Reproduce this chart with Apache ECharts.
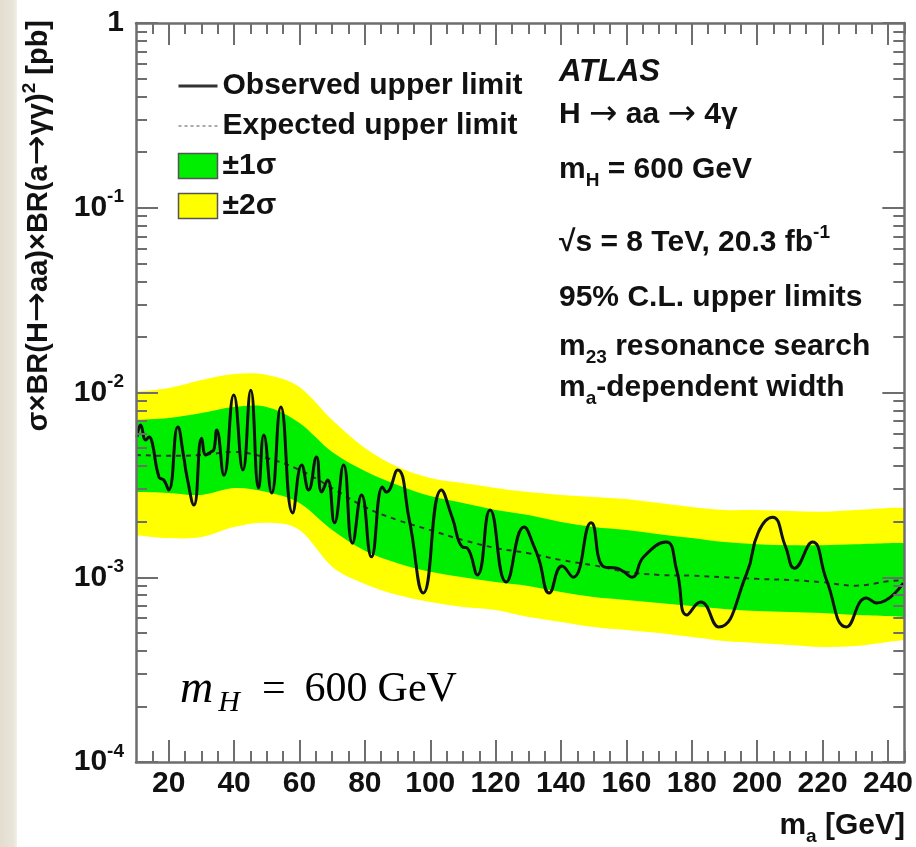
<!DOCTYPE html>
<html><head><meta charset="utf-8">
<script src="https://cdn.jsdelivr.net/npm/echarts@6/dist/echarts.min.js"></script>
<style>html,body{margin:0;padding:0;background:#fff}#c{width:916px;height:847px}</style>
</head><body><div id="c"></div>
<script>
// ---------------- data ----------------
const massObs = [10.3, 11.4, 13.0, 14.0, 14.9, 17.0, 18.5, 20.0, 22.8, 24.6,
  25.6, 27.7, 30.1, 31.4, 32.9, 33.8, 34.7, 36.9, 39.9, 42.7,
  45.1, 47.5, 49.1, 51.5, 54.3, 57.9, 60.7, 62.8, 65.2, 66.8,
  68.6, 70.7, 73.5, 76.2, 79.0, 82.0, 85.4, 86.6, 90.0, 93.6,
  97.9, 103.4, 106.7, 109.8, 111.3, 114.4, 118.3, 123.2, 128.7, 131.8,
  133.3, 136.4, 140.3, 143.7, 149.2, 153.1, 157.1, 159.2, 161.7, 165.3,
  172.1, 175.4, 178.5, 182.7, 188.2, 196.8, 200.4, 204.7, 208.7, 211.4,
  216.9, 221.2, 227.3, 233.4, 236.5, 244.7];
const obsLimit = [5.74e-3, 6.67e-3, 5.53e-3, 5.74e-3, 5.40e-3, 3.49e-3, 3.36e-3, 2.97e-3, 6.50e-3, 4.48e-3,
  3.49e-3, 2.46e-3, 5.66e-3, 4.59e-3, 4.77e-3, 4.89e-3, 6.27e-3, 3.57e-3, 9.69e-3, 3.81e-3,
  1.03e-2, 3.04e-3, 5.89e-3, 2.86e-3, 8.35e-3, 2.23e-3, 4.05e-3, 2.97e-3, 4.48e-3, 2.89e-3,
  3.36e-3, 1.97e-3, 4.05e-3, 1.53e-3, 2.79e-3, 1.29e-3, 3.08e-3, 2.89e-3, 3.81e-3, 2.04e-3,
  8.22e-4, 2.97e-3, 2.11e-3, 1.46e-3, 1.44e-3, 1.03e-3, 2.31e-3, 9.43e-4, 1.87e-3, 1.46e-3,
  1.24e-3, 8.22e-4, 1.15e-3, 1.00e-3, 1.97e-3, 1.14e-3, 1.12e-3, 1.07e-3, 1.00e-3, 1.29e-3,
  1.55e-3, 1.09e-3, 6.25e-4, 7.34e-4, 5.38e-4, 1.05e-3, 1.76e-3, 2.11e-3, 1.46e-3, 1.12e-3,
  1.55e-3, 9.66e-4, 5.38e-4, 7.73e-4, 7.26e-4, 9.31e-4];

const massBand = [10, 20, 30, 40, 50, 60, 70, 80, 90, 100, 110, 120, 130, 140, 150, 160, 170, 180, 190, 200, 210, 220, 230, 240, 245];
const expLimit = [4.59e-3, 4.54e-3, 4.59e-3, 4.77e-3, 4.42e-3, 3.81e-3, 3.04e-3, 2.40e-3, 2.04e-3, 1.80e-3, 1.59e-3, 1.44e-3, 1.35e-3,
  1.24e-3, 1.16e-3, 1.07e-3, 1.03e-3, 1.02e-3, 1.00e-3, 9.8e-4, 9.66e-4, 9.4e-4, 9.0e-4, 9.5e-4, 9.66e-4];
const plus2 = [1.007e-2, 1.057e-2, 1.169e-2, 1.259e-2, 1.245e-2, 1.071e-2, 7.10e-3, 5.01e-3, 3.96e-3, 3.45e-3, 3.24e-3, 3.04e-3, 2.89e-3,
  2.79e-3, 2.72e-3, 2.65e-3, 2.52e-3, 2.40e-3, 2.31e-3, 2.31e-3, 2.28e-3, 2.26e-3, 2.31e-3, 2.37e-3, 2.37e-3];
const plus1 = [7.10e-3, 7.28e-3, 7.74e-3, 8.35e-3, 8.35e-3, 6.84e-3, 4.76e-3, 3.76e-3, 3.16e-3, 2.75e-3, 2.52e-3, 2.31e-3, 2.17e-3,
  1.99e-3, 1.87e-3, 1.80e-3, 1.71e-3, 1.63e-3, 1.55e-3, 1.51e-3, 1.49e-3, 1.49e-3, 1.51e-3, 1.53e-3, 1.53e-3];
const minus1 = [2.89e-3, 2.86e-3, 2.79e-3, 3.04e-3, 2.89e-3, 2.52e-3, 1.80e-3, 1.39e-3, 1.19e-3, 1.07e-3, 1.00e-3, 9.42e-4, 8.97e-4,
  8.32e-4, 7.81e-4, 7.53e-4, 7.26e-4, 6.99e-4, 6.73e-4, 6.56e-4, 6.48e-4, 6.40e-4, 6.25e-4, 6.17e-4, 6.09e-4];
const minus2 = [1.69e-3, 1.63e-3, 1.65e-3, 1.87e-3, 1.97e-3, 1.80e-3, 1.14e-3, 9.19e-4, 8.01e-4, 7.34e-4, 6.90e-4, 6.65e-4, 6.09e-4,
  5.73e-4, 5.38e-4, 5.18e-4, 4.99e-4, 4.75e-4, 4.52e-4, 4.41e-4, 4.30e-4, 4.19e-4, 4.24e-4, 4.46e-4, 4.57e-4];

const xMajorTicks = [20, 40, 60, 80, 100, 120, 140, 160, 180, 200, 220, 240];
const xMinorTicks = [15, 25, 30, 35, 45, 50, 55, 65, 70, 75, 85, 90, 95, 105, 110, 115, 125, 130, 135, 145, 150, 155,
  165, 170, 175, 185, 190, 195, 205, 210, 215, 225, 230, 235, 245];
const yMajorTicks = [1e-4, 1e-3, 1e-2, 1e-1, 1];
const yMinorTicks = [2e-4, 3e-4, 4e-4, 5e-4, 6e-4, 7e-4, 8e-4, 9e-4,
  2e-3, 3e-3, 4e-3, 5e-3, 6e-3, 7e-3, 8e-3, 9e-3,
  2e-2, 3e-2, 4e-2, 5e-2, 6e-2, 7e-2, 8e-2, 9e-2,
  0.2, 0.3, 0.4, 0.5, 0.6, 0.7, 0.8, 0.9];

// ---------------- style ----------------
const FONT = '"Liberation Sans", Arial, Helvetica, sans-serif';
const ARROWFONT = '"DejaVu Sans", "Liberation Sans", sans-serif';
const SERIF = '"Liberation Serif", "DejaVu Serif", serif';
const AXC = '#6e6e6e';
const TXT = '#111';
const GREEN = '#00ee00';
const YELLOW = '#ffff00';

function xAx(pos, ticks, len, labels, line) {
  return {
    type: 'value', position: pos, min: 10, max: 245, z: 10,
    axisLine: { show: line, onZero: false, lineStyle: { color: AXC, width: 2.5 } },
    axisTick: { show: true, inside: true, length: len, customValues: ticks, lineStyle: { color: AXC, width: 2 } },
    axisLabel: labels ? { show: true, customValues: ticks, margin: 7, color: TXT, fontSize: 30, fontWeight: 'bold', fontFamily: FONT } : { show: false },
    splitLine: { show: false }
  };
}
function yAx(pos, ticks, len, labels, line) {
  return {
    type: 'log', logBase: 10, position: pos, min: 1e-4, max: 1, z: 10,
    axisLine: { show: line, onZero: false, lineStyle: { color: AXC, width: 2.5 } },
    axisTick: { show: true, inside: true, length: len, customValues: ticks, lineStyle: { color: AXC, width: 2 } },
    axisLabel: labels ? {
      show: true, customValues: ticks, margin: 12,
      formatter: function (v) {
        const e = Math.round(Math.log10(v));
        return e === 0 ? '{b|1}' : '{b|10}{s|' + e + '}';
      },
      rich: {
        b: { fontSize: 30, fontWeight: 'bold', fontFamily: FONT, color: TXT, lineHeight: 40 },
        s: { fontSize: 19, fontWeight: 'bold', fontFamily: FONT, color: TXT, lineHeight: 20, verticalAlign: 'top' }
      }
    } : { show: false },
    splitLine: { show: false }, minorTick: { show: false }
  };
}

function spline(p) {
  let s = '';
  for (let i = 0; i < p.length - 1; i++) {
    const p0 = p[i - 1] || p[i], p1 = p[i], p2 = p[i + 1], p3 = p[i + 2] || p[i + 1];
    const c1 = [p1[0] + (p2[0] - p0[0]) / 6, p1[1] + (p2[1] - p0[1]) / 6];
    const c2 = [p2[0] - (p3[0] - p1[0]) / 6, p2[1] - (p3[1] - p1[1]) / 6];
    s += ' C' + c1.join(',') + ' ' + c2.join(',') + ' ' + p2.join(',');
  }
  return s;
}
function bandRenderer(lo, hi, color) {
  return function (params, api) {
    if (params.dataIndex !== 0) return null;
    const up = massBand.map((m, i) => api.coord([m, hi[i]]));
    const dn = massBand.map((m, i) => api.coord([m, lo[i]])).reverse();
    const d = 'M' + up[0].join(',') + spline(up) + ' L' + dn[0].join(',') + spline(dn) + ' Z';
    return { type: 'path', shape: { pathData: d }, style: { fill: color, stroke: null } };
  };
}

const chart = echarts.init(document.getElementById('c'), null, { renderer: 'canvas' });
const rightX = 559;
function infoText(y, text, rich, extra) {
  return {
    type: 'text', x: rightX, y: y, z: 20,
    style: Object.assign({ text: text, fill: TXT, fontSize: 30, fontWeight: 'bold', fontFamily: FONT, align: 'left', verticalAlign: 'middle', rich: rich || {} }, extra || {})
  };
}
const RICH = {
  b: { fontSize: 30, fontWeight: 'bold', fontFamily: FONT, fill: TXT, lineHeight: 40 },
  sub: { fontSize: 19, fontWeight: 'bold', fontFamily: FONT, fill: TXT, lineHeight: 16, verticalAlign: 'bottom' },
  sup: { fontSize: 19, fontWeight: 'bold', fontFamily: FONT, fill: TXT, lineHeight: 22, verticalAlign: 'top' },
  ar: { fontSize: 34, fontWeight: 'normal', fontFamily: ARROWFONT, fill: TXT, lineHeight: 40 }
};

chart.setOption({
  animation: false,
  backgroundColor: '#fff',
  grid: { left: 136, right: 10, top: 23, bottom: 85, containLabel: false },
  xAxis: [
    xAx('bottom', xMajorTicks, 22, true, true),
    xAx('bottom', xMinorTicks, 11, false, false),
    xAx('top', xMajorTicks, 22, false, true),
    xAx('top', xMinorTicks, 11, false, false)
  ],
  yAxis: [
    yAx('left', yMajorTicks, 22, true, true),
    yAx('left', yMinorTicks, 11, false, false),
    yAx('right', yMajorTicks, 22, false, true),
    yAx('right', yMinorTicks, 11, false, false)
  ],
  legend: {
    left: 172, top: 66, orient: 'vertical', itemWidth: 39, itemHeight: 25, itemGap: 10,
    selectedMode: false,
    textStyle: { fontSize: 30, fontWeight: 'bold', fontFamily: FONT, color: TXT, lineHeight: 25 },
    data: [
      { name: 'Observed upper limit', itemStyle: { opacity: 0 }, lineStyle: { color: '#333', width: 3 } },
      { name: 'Expected upper limit', itemStyle: { opacity: 0 }, lineStyle: { color: '#aaa', width: 2, type: [3, 3] } },
      { name: '±1σ', icon: 'rect', itemStyle: { color: GREEN, borderColor: '#555', borderWidth: 1.5 } },
      { name: '±2σ', icon: 'rect', itemStyle: { color: YELLOW, borderColor: '#555', borderWidth: 1.5 } }
    ]
  },
  series: [
    {
      type: 'custom', name: '±2σ', coordinateSystem: 'cartesian2d', z: 1, silent: true,
      itemStyle: { color: YELLOW },
      data: massBand.map((m, i) => [m, minus2[i], plus2[i]]),
      encode: { x: 0, y: [1, 2] },
      renderItem: bandRenderer(minus2, plus2, YELLOW)
    },
    {
      type: 'custom', name: '±1σ', coordinateSystem: 'cartesian2d', z: 2, silent: true,
      itemStyle: { color: GREEN },
      data: massBand.map((m, i) => [m, minus1[i], plus1[i]]),
      encode: { x: 0, y: [1, 2] },
      renderItem: bandRenderer(minus1, plus1, GREEN)
    },
    {
      type: 'line', name: 'Expected upper limit', z: 3, symbol: 'none', smooth: 0.4,
      lineStyle: { color: '#333', width: 2, type: [5, 5] },
      itemStyle: { color: '#888' },
      data: massBand.map((m, i) => [m, expLimit[i]])
    },
    {
      type: 'line', name: 'Observed upper limit', z: 4, symbol: 'none', smooth: 0.5,
      lineStyle: { color: TXT, width: 3 },
      itemStyle: { color: TXT },
      data: massObs.map((m, i) => [m, obsLimit[i]])
    }
  ],
  graphic: [
    {
      type: 'rect', z: 0, shape: { x: 0, y: 0, width: 17, height: 847 },
      style: { fill: new echarts.graphic.LinearGradient(0, 0, 1, 0, [
        { offset: 0, color: '#e2ddcf' }, { offset: 0.8, color: '#e9e5d9' }, { offset: 1, color: '#f3f1ea' }]) }
    },
    {
      type: 'text', x: 39, y: 20, rotation: Math.PI / 2, z: 20,
      style: {
        text: '{b|σ×BR(H}{ar|→}{b|aa)×BR(a}{ar|→}{b|γγ)}{sup|2}{b| [pb]}', align: 'right', verticalAlign: 'middle',
        rich: {
          b: { fontSize: 29, fontWeight: 'bold', fontFamily: FONT, fill: TXT, lineHeight: 38 },
          ar: { fontSize: 36, fontWeight: 'normal', fontFamily: ARROWFONT, fill: TXT, lineHeight: 38 },
          sup: { fontSize: 19, fontWeight: 'bold', fontFamily: FONT, fill: TXT, lineHeight: 22, verticalAlign: 'top' }
        }
      }
    },
    {
      type: 'text', x: 905, y: 826, z: 20,
      style: { text: '{b|m}{sub|a}{b| [GeV]}', align: 'right', verticalAlign: 'middle', rich: RICH }
    },
    infoText(72, 'ATLAS', null, { fontStyle: 'italic', fontSize: 31 }),
    infoText(115, '{b|H }{ar|→}{b| aa }{ar|→}{b| 4γ}', RICH),
    infoText(170, '{b|m}{sub|H}{b| = 600 GeV}', RICH),
    infoText(243, '{b|√s = 8 TeV, 20.3 fb}{sup|-1}', RICH),
    infoText(298, '95% C.L. upper limits'),
    infoText(347, '{b|m}{sub|23}{b| resonance search}', RICH),
    infoText(388, '{b|m}{sub|a}{b|-dependent width}', RICH),
    {
      type: 'text', x: 180, y: 690, z: 20,
      style: {
        text: '{mi|m}{hs|H}{r1|=}{r2|600}{r3|GeV}', align: 'left', verticalAlign: 'middle',
        rich: {
          mi: { fontSize: 46, fontStyle: 'italic', fontFamily: SERIF, fill: '#000', lineHeight: 56 },
          hs: { fontSize: 30, fontStyle: 'italic', fontFamily: SERIF, fill: '#000', lineHeight: 24, verticalAlign: 'bottom', padding: [0, 0, 0, 5] },
          r1: { fontSize: 42, fontFamily: SERIF, fill: '#000', lineHeight: 56, padding: [0, 0, 0, 22] },
          r2: { fontSize: 42, fontFamily: SERIF, fill: '#000', lineHeight: 56, padding: [0, 0, 0, 19] },
          r3: { fontSize: 42, fontFamily: SERIF, fill: '#000', lineHeight: 56, padding: [0, 0, 0, 10] }
        }
      }
    }
  ]
});
</script>
</body></html>
